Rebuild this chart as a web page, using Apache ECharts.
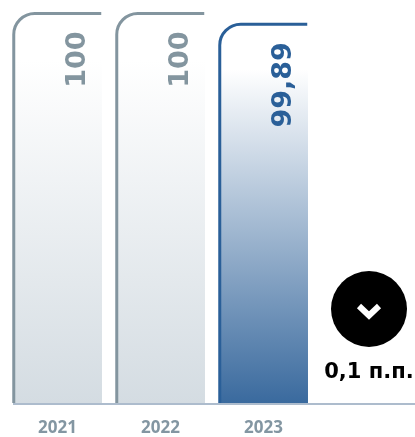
<!DOCTYPE html>
<html><head><meta charset="utf-8">
<style>html,body{margin:0;padding:0;background:#fff}#c{width:415px;height:437px}</style>
<script src="https://cdn.jsdelivr.net/npm/echarts@6/dist/echarts.min.js"></script>
</head><body><div id="c"></div>
<script>
const categories = ['2021', '2022', '2023'];
const values = [100, 100, 99.89];
const valueLabels = ['100', '100', '99,89'];
const strokeColors = ['#83959f', '#83959f', '#2a5f98'];
const bottomColors = ['#d4dce2', '#d4dce2', '#3a6a9e'];
const deltaLabel = '0,1 п.п.';

const chart = echarts.init(document.getElementById('c'), null, {renderer: 'canvas'});
const font = '"DejaVu Sans", sans-serif';
function corner(x, y, rad) {
  const k = rad * 0.45;
  return `L${x} ${y + rad}C${x} ${y + k} ${x + k} ${y} ${x + rad} ${y}`;
}
function renderBar(params, api) {
  const i = api.value(0);
  const top = api.coord([i, api.value(1)]);
  const base = api.coord([i, 96]);
  const w = api.size([1, 0])[0] * 0.864;
  const l = top[0] - w / 2, r = top[0] + w / 2, t = top[1], b = base[1], rad = 21, sw = 3;
  const xs = l + sw / 2;
  const gradient = new echarts.graphic.LinearGradient(0, 0, 0, 1, [
    {offset: 0, color: '#ffffff'},
    {offset: 0.12, color: '#ffffff'},
    {offset: 1, color: bottomColors[i]}
  ]);
  return {
    type: 'group',
    children: [
      {type: 'path',
       shape: {pathData: `M${l} ${b}${corner(l, t, rad)}L${r} ${t}L${r} ${b}Z`,
               x: l, y: t, width: r - l, height: b - t},
       style: {fill: gradient}},
      {type: 'path',
       shape: {pathData: `M${xs} ${b}${corner(xs, t, rad)}L${r} ${t}`,
               x: l, y: t, width: r - l, height: b - t},
       style: {fill: 'none', stroke: strokeColors[i], lineWidth: sw}},
      {type: 'text', x: top[0] + 20, y: t + 18, rotation: Math.PI / 2,
       style: {text: valueLabels[i], fill: strokeColors[i], font: '700 27px ' + font,
               align: 'right', verticalAlign: 'middle'}}
    ]
  };
}
chart.setOption({
  animation: false,
  grid: {left: 6, top: 13.5, width: 309, bottom: 33},
  xAxis: {type: 'category', data: categories,
    axisLine: {show: false}, axisTick: {show: false},
    axisLabel: {color: '#8396a2', fontSize: 17, fontWeight: 700, fontFamily: '"Open Sans", sans-serif', margin: 17}},
  yAxis: {type: 'value', min: 96, max: 100, show: false},
  series: [{type: 'custom', clip: false, renderItem: renderBar,
    encode: {x: 0, y: 1},
    data: categories.map((c, i) => [i, values[i]])}],
  graphic: [
    {type: 'line', silent: true, shape: {x1: 13, y1: 404, x2: 415, y2: 404}, style: {stroke: '#adbccd', lineWidth: 2}},
    {type: 'circle', silent: true, shape: {cx: 369, cy: 309, r: 38}, style: {fill: '#000'}},
    {type: 'polyline', silent: true, shape: {points: [[359, 306], [369, 315.5], [379, 306]]},
     style: {stroke: '#fff', lineWidth: 6, fill: 'none'}},
    {type: 'text', silent: true, x: 369, y: 373,
     style: {text: deltaLabel, fill: '#000', font: '700 21px ' + font, align: 'center', verticalAlign: 'middle'}}
  ]
});
</script></body></html>
